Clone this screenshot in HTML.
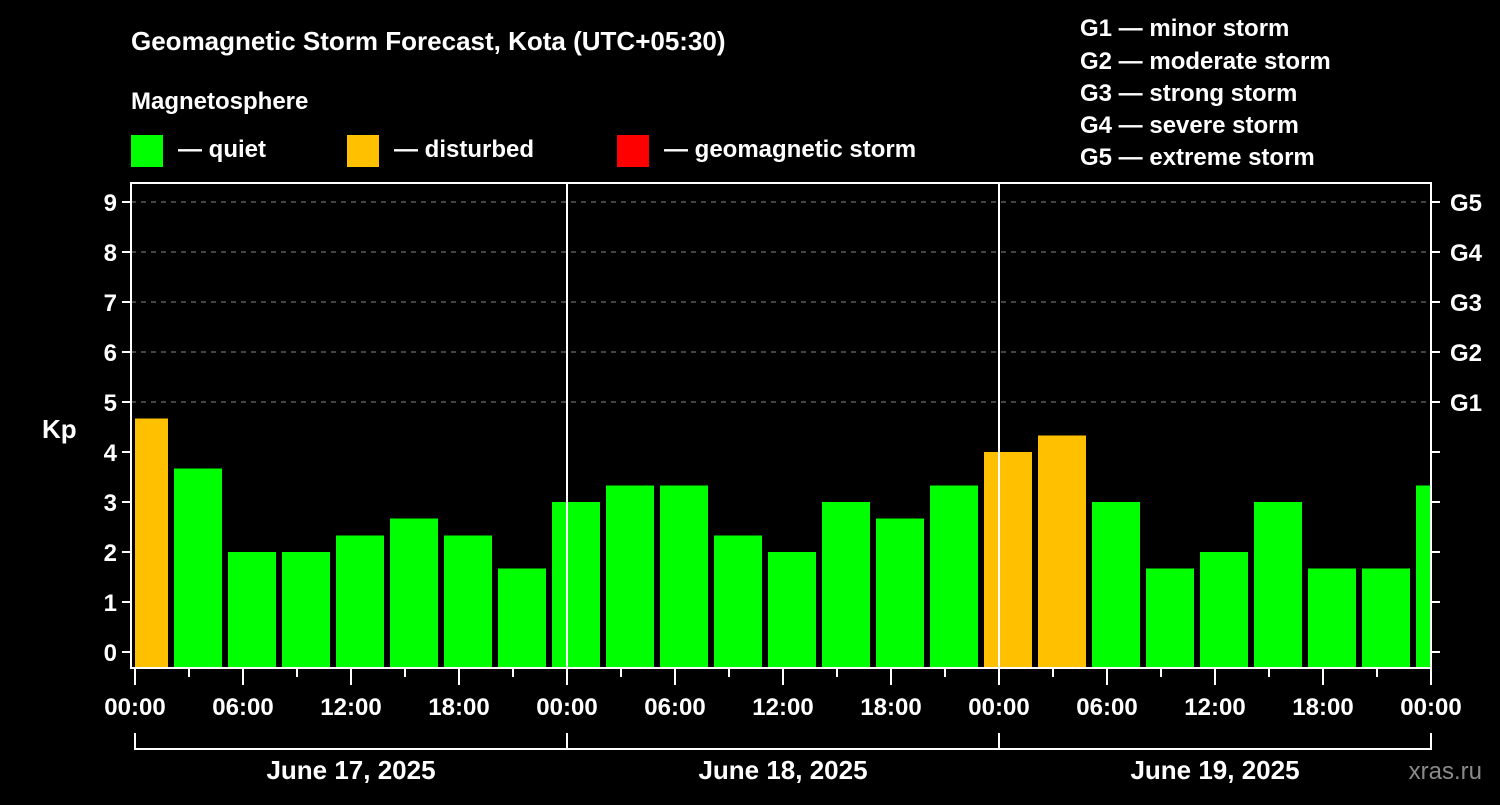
<!DOCTYPE html>
<html><head><meta charset="utf-8"><style>
body{margin:0;background:#000;width:1500px;height:800px;overflow:hidden}
svg text{font-family:"Liberation Sans",Arial,sans-serif;font-weight:bold;fill:#fff}
</style></head><body>
<svg id="c" width="1500" height="800" xmlns="http://www.w3.org/2000/svg">
<rect width="1500" height="800" fill="#000"/>
<text x="131" y="50" font-size="26">Geomagnetic Storm Forecast, Kota (UTC+05:30)</text>
<text x="131" y="109" font-size="24">Magnetosphere</text>
<g><rect x="131" y="135" width="32" height="32" fill="#00ff00"/><text x="178" y="157" font-size="24">— quiet</text></g>
<g><rect x="347" y="135" width="32" height="32" fill="#ffc000"/><text x="394" y="157" font-size="24">— disturbed</text></g>
<g><rect x="617" y="135" width="32" height="32" fill="#ff0000"/><text x="664" y="157" font-size="24">— geomagnetic storm</text></g>
<g font-size="24">
<text x="1080" y="36">G1 — minor storm</text>
<text x="1080" y="69">G2 — moderate storm</text>
<text x="1080" y="101">G3 — strong storm</text>
<text x="1080" y="133">G4 — severe storm</text>
<text x="1080" y="165">G5 — extreme storm</text>
</g>
<text x="42" y="438" font-size="26">Kp</text>
<text x="1482" y="779" font-size="24" fill="#888" style="fill:#8a8a8a;font-weight:normal" text-anchor="end">xras.ru</text>
<g id="plot"></g>
</svg>
<script>
const kpValues=[4.67,3.67,2,2,2.33,2.67,2.33,1.67,3,3.33,3.33,2.33,2,3,2.67,3.33,4,4.33,3,1.67,2,3,1.67,1.67,3.33];
const yTicks=[0,1,2,3,4,5,6,7,8,9];
const gLabels=["G1","G2","G3","G4","G5"];
const xTickLabels=["00:00","06:00","12:00","18:00","00:00","06:00","12:00","18:00","00:00","06:00","12:00","18:00","00:00"];
const dateLabels=["June 17, 2025","June 18, 2025","June 19, 2025"];
const NS="http://www.w3.org/2000/svg";
const L=131,R=1431,T=183,B=668,X0=135;
const y=k=>652-50*k;
const x=h=>X0+18*h;
const g=document.getElementById('plot');
function mk(t,a,p){const e=document.createElementNS(NS,t);for(const k in a)e.setAttribute(k,a[k]);(p||g).appendChild(e);return e;}
// grid
for(let k=5;k<=9;k++){const l=mk('line',{x1:L,x2:R,y1:y(k),y2:y(k),stroke:'#888','stroke-dasharray':'5,5','stroke-width':1});

}
// bars
kpValues.forEach((v,i)=>{const h0=3*i-1;let x1=Math.max(x(h0)+3,X0),x2=Math.min(x(h0+3)-3,R);
const b=mk('rect',{x:x1,y:y(v),width:x2-x1,height:B-y(v),fill:v>=5?'#ff0000':(v>=4?'#ffc000':'#00ff00')});

});
// day separators
[1,2].forEach(d=>{const l=mk('line',{x1:x(24*d),x2:x(24*d),y1:T,y2:B,stroke:'#fff','stroke-width':2});

});
// frame
const f=mk('rect',{x:L,y:T,width:R-L,height:B-T,fill:'none',stroke:'#fff','stroke-width':2});


// y ticks
yTicks.forEach(k=>{mk('line',{x1:122,x2:L,y1:y(k),y2:y(k),stroke:'#fff','stroke-width':2});
mk('line',{x1:R,x2:1440,y1:y(k),y2:y(k),stroke:'#fff','stroke-width':2});
const t=mk('text',{x:117,y:y(k)+9,'font-size':24,'text-anchor':'end'});t.textContent=k;

});
gLabels.forEach((s,i)=>{const t=mk('text',{x:1450,y:y(5+i)+9,'font-size':24});t.textContent=s;

});
// x ticks
for(let h=0;h<=72;h+=3){mk('line',{x1:x(h),x2:x(h),y1:B,y2:h%6==0?685:677,stroke:'#fff','stroke-width':2});}
xTickLabels.forEach((s,i)=>{const t=mk('text',{x:x(6*i),y:715,'font-size':24,'text-anchor':'middle'});t.textContent=s;

});
// date brackets
dateLabels.forEach((s,d)=>{mk('polyline',{points:`${x(24*d)},733 ${x(24*d)},749 ${x(24*d+24)},749 ${x(24*d+24)},733`,fill:'none',stroke:'#fff','stroke-width':2});
const t=mk('text',{x:x(24*d+12),y:779,'font-size':26,'text-anchor':'middle'});t.textContent=s;

});
</script>
</body></html>
